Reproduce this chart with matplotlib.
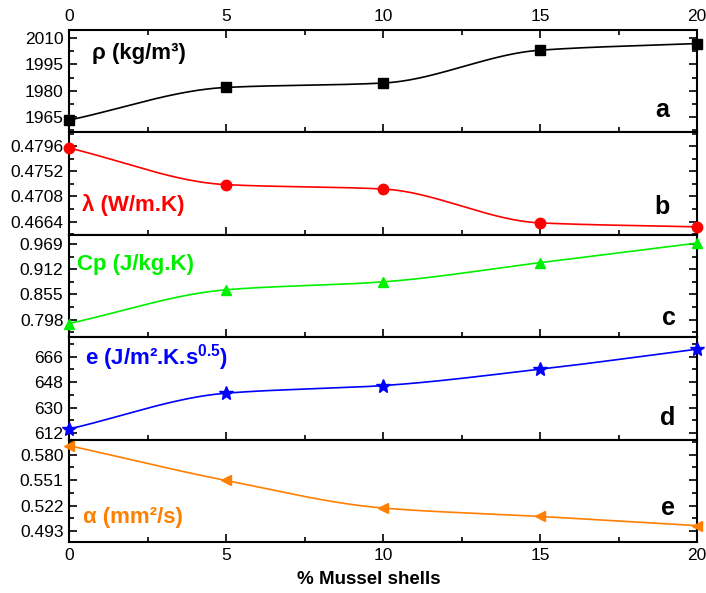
import numpy as np
import matplotlib.pyplot as plt

plt.rcParams['font.family'] = ['Liberation Sans', 'DejaVu Sans']
plt.rcParams['mathtext.fontset'] = 'custom'
plt.rcParams['mathtext.rm'] = 'Liberation Sans'
plt.rcParams['mathtext.bf'] = 'Liberation Sans:bold'

# % mussel shells
shells = [0, 5, 10, 15, 20]

rho = [1963.3, 1981.9, 1984.4, 2003.1, 2006.9]
lam = [0.4793, 0.47288, 0.47211, 0.46617, 0.46547]
cp = [0.789, 0.8654, 0.8834, 0.9269, 0.9712]
eff = [614.8, 640.2, 645.6, 657.2, 671.4]
alpha = [0.5903, 0.5507, 0.5194, 0.5098, 0.4994]

rho_ticks = [1965, 1980, 1995, 2010]
lam_ticks = [0.4664, 0.4708, 0.4752, 0.4796]
cp_ticks = [0.798, 0.855, 0.912, 0.969]
eff_ticks = [612, 630, 648, 666]
alpha_ticks = [0.493, 0.522, 0.551, 0.580]


# smooth curve through the points (pchip style hermite)
def smooth(x, y, n=200):
    x = np.asarray(x, float)
    y = np.asarray(y, float)
    h = np.diff(x)
    d = np.diff(y) / h
    m = np.zeros_like(y)
    for i in range(1, len(x) - 1):
        if d[i-1] * d[i] > 0:
            m[i] = 2 / (1/d[i-1] + 1/d[i])
    m[0] = d[0]
    m[-1] = d[-1]
    xs, ys = [], []
    for i in range(len(x) - 1):
        t = np.linspace(0, 1, n)
        h00 = 2*t**3 - 3*t**2 + 1
        h10 = t**3 - 2*t**2 + t
        h01 = -2*t**3 + 3*t**2
        h11 = t**3 - t**2
        xs.append(x[i] + t*h[i])
        ys.append(h00*y[i] + h10*h[i]*m[i] + h01*y[i+1] + h11*h[i]*m[i+1])
    return np.concatenate(xs), np.concatenate(ys)


panels = [
    (rho, rho_ticks, (1956.3, 2014.6), 'black', 's', 'ρ (kg/m³)', 'a', '%d'),
    (lam, lam_ticks, (0.46408, 0.48204), 'red', 'o', 'λ (W/m.K)', 'b', '%.4f'),
    (cp, cp_ticks, (0.758, 0.990), '#00f000', '^', 'Cp (J/kg.K)', 'c', '%.3f'),
    (eff, eff_ticks, (607.3, 679.9), 'blue', '*', r'e (J/m².K.s$^{\mathbf{0.5}}$)', 'd', '%d'),
    (alpha, alpha_ticks, (0.4808, 0.5971), '#ff7f00', '<', 'α (mm²/s)', 'e', '%.3f'),
]

W, H = 706, 593
fig = plt.figure(figsize=(W/100, H/100), dpi=100)

left, right = 69, 697
top, bottom = 30, 542
ph = (bottom - top) / 5
label_pos = [(92, 54), (82, 205), (77, 265), (85, 358), (83, 517)]
letter_pos = [(662, 110), (662, 207), (669, 318), (668, 418), (668, 508)]

for k, (vals, ticks, ylim, col, mk, lab, letter, fmt) in enumerate(panels):
    y0 = top + k*ph
    ax = fig.add_axes([left/W, 1 - (y0 + ph)/H, (right - left)/W, ph/H])
    xs, ys = smooth(shells, vals)
    ax.plot(xs, ys, color=col, lw=1.2, clip_on=False)
    ms = 10 if mk == '*' else 7.5
    ax.plot(shells, vals, ls='none', marker=mk, color=col, ms=ms, clip_on=False, zorder=5)
    ax.set_xlim(0, 20)
    ax.set_ylim(*ylim)
    ax.set_yticks(ticks)
    ax.set_yticklabels([fmt % t for t in ticks])
    minor = [t + (ticks[1] - ticks[0])/2 for t in [ticks[0] - (ticks[1] - ticks[0])] + ticks]
    ax.set_yticks([m for m in minor if ylim[0] < m < ylim[1]], minor=True)
    ax.set_xticks(shells)
    ax.set_xticks([2.5, 7.5, 12.5, 17.5], minor=True)
    ax.tick_params(which='both', direction='in', top=(k == 0), right=True, width=1.2,
                   labelsize=12.5, labelbottom=(k == 4), labeltop=(k == 0), pad=4)
    ax.tick_params(which='major', length=6)
    ax.tick_params(which='minor', length=3.5)
    for s in ax.spines.values():
        s.set_linewidth(1.5)
    fig.text(label_pos[k][0]/W, 1 - label_pos[k][1]/H, lab, color=col,
             fontsize=16, fontweight='bold', va='center', ha='left')
    fig.text(letter_pos[k][0]/W, 1 - letter_pos[k][1]/H, letter, color='black',
             fontsize=18, fontweight='bold', va='center', ha='center')

fig.text(369/W, 1 - 579/H, '% Mussel shells', fontsize=13.5,
         fontweight='bold', ha='center', va='center')

fig.savefig('out.png', dpi=100)
